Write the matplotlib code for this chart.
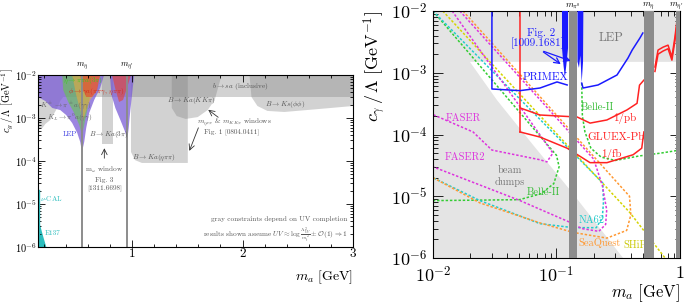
import numpy as np
import matplotlib.pyplot as plt
from matplotlib.ticker import FixedLocator, LogLocator, NullFormatter

plt.rcParams['font.family'] = 'serif'
plt.rcParams['font.serif'] = ['cmr10']
plt.rcParams['mathtext.fontset'] = 'cm'
plt.rcParams['axes.unicode_minus'] = False

# ---------------- left panel data (c_g / Lambda vs m_a) ----------------
m_eta, m_etap = 0.548, 0.958

bsa_x = [0.15, 3.0]
bsa_lo, bsa_hi = 3.1e-3, 1e-2

kpi_x = [0.15, 0.15, 0.189, 0.216, 0.261, 0.288, 0.324, 0.351, 0.378]
kpi_y = [3.08e-3, 5.3e-4, 5.85e-4, 7.25e-4, 9.0e-4, 1.17e-3, 1.71e-3, 2.48e-3, 3.08e-3]

k3pi_x = [0.73, 0.73, 0.83, 0.83]
k3pi_y = [1e-2, 2.48e-4, 2.48e-4, 1e-2]

ketapipi_x = [0.991, 0.991, 1.027, 1.09, 1.505, 1.505]
ketapipi_y = [1e-2, 1.62e-4, 1.05e-4, 9.0e-5, 9.0e-5, 1e-2]

kkkpi_x = [1.36, 1.36, 1.405, 1.486, 1.595, 1.685, 1.748, 1.811]
kkkpi_y = [1e-2, 1.71e-3, 1.11e-3, 9.5e-4, 1.05e-3, 1.53e-3, 2.62e-3, 1e-2]

kphiphi_x = [2.063, 2.081, 2.135, 2.225, 2.378, 2.694, 3.0, 3.0]
kphiphi_y = [1e-2, 3.08e-3, 1.9e-3, 1.46e-3, 1.38e-3, 1.62e-3, 1.9e-3, 1e-2]

lep1_x = [0.15, 0.15, 0.216, 0.279, 0.351, 0.405, 0.459, 0.505, 0.532, 0.548,
          0.568, 0.586, 0.613, 0.658, 0.712, 0.748]
lep1_y = [1e-2, 3.08e-3, 2.48e-3, 1.71e-3, 1.53e-3, 1.17e-3, 7.65e-4, 4.48e-4,
          2.77e-4, 1.62e-4, 2.77e-4, 5.85e-4, 1.31e-3, 2.62e-3, 4.99e-3, 1e-2]
lep2_x = [0.80, 0.815, 0.85, 0.895, 0.935, 0.958, 0.97, 0.985, 1.0, 1.02]
lep2_y = [1e-2, 3.4e-3, 1.7e-3, 9e-4, 5e-4, 3.2e-4, 5.8e-4, 1.5e-3, 3.4e-3, 1e-2]

eta_x = [0.369, 0.378, 0.423, 0.477, 0.523, 0.548, 0.568, 0.595, 0.622, 0.640]
eta_y = [1e-2, 4.48e-3, 2.36e-3, 1.31e-3, 6.87e-4, 4.03e-4, 6.87e-4, 1.53e-3, 3.43e-3, 1e-2]

orng_x = [0.459, 0.495, 0.532, 0.559, 0.586, 0.622, 0.676, 0.712]
orng_y = [1e-2, 3.43e-3, 1.53e-3, 9.0e-4, 1.53e-3, 2.62e-3, 4.03e-3, 1e-2]

phi1_x = [0.532, 0.550, 0.586, 0.640, 0.685, 0.712]
phi1_y = [1e-2, 4.99e-3, 3.08e-3, 3.08e-3, 4.48e-3, 1e-2]
phi2_x = [0.820, 0.847, 0.883, 0.919, 0.955, 0.991]
phi2_y = [1e-2, 4.99e-3, 2.36e-3, 2.62e-3, 4.99e-3, 1e-2]

e137_x = [0.15, 0.225, 0.198, 0.171, 0.15]
e137_y = [1e-6, 1e-6, 1.71e-6, 3.08e-6, 4.72e-6]
nucal_top = 2.1e-5

# ---------------- right panel data (c_gamma / Lambda vs m_a) ----------------
light_x = [0.01, 0.01, 1.0, 1.0, 0.0199, 0.033, 0.0645, 0.129, 0.346]
light_y = [1e-6, 1e-2, 1e-2, 1.5e-3, 1.5e-3, 3.6e-4, 6.8e-5, 1.26e-5, 1e-6]

bands = [(0.126, 0.147), (0.51, 0.62), (0.93, 1.0)]
band_labels = [r'$m_{\pi^0}$', r'$m_\eta$', r"$m_{\eta'}$"]
band_label_x = [0.136, 0.56, 1.07]
band_label_ha = ['center', 'center', 'right']

primex1_x = [0.03, 0.03, 0.0506, 0.0735, 0.101, 0.122]
primex1_y = [1e-2, 5.46e-4, 5.13e-4, 5.66e-4, 7.1e-4, 6.34e-4]
primex2_x = [0.16, 0.164, 0.217, 0.309, 0.379, 0.41, 0.474, 0.50]
primex2_y = [6.8e-4, 5.66e-4, 6.34e-4, 9.2e-4, 1.73e-3, 2.33e-3, 3.66e-3, 4.4e-3]

spike1_x = [0.1108, 0.1108, 0.114, 0.117, 0.120, 0.124, 0.124]
spike1_y = [1e-2, 2.5e-3, 1.3e-3, 8.5e-4, 1.3e-3, 2.5e-3, 1e-2]
spike2_x = [0.148, 0.148, 0.152, 0.156, 0.160, 0.164, 0.165]
spike2_y = [1e-2, 1.5e-3, 1.2e-3, 1.9e-3, 7.0e-4, 1.5e-3, 1e-2]

gluex_vert_x = [0.0506, 0.0506]
gluex_vert_y = [1e-2, 1.1e-4]
pb_x = [0.0506, 0.0735, 0.147, 0.187, 0.256, 0.372, 0.449, 0.47, 0.51]
pb_y = [2.7e-4, 2.07e-4, 1.92e-4, 1.53e-4, 1.72e-4, 2.5e-4, 3.2e-4, 6.3e-4, 7.6e-4]
fb_x = [0.0506, 0.0735, 0.122, 0.187, 0.256, 0.417, 0.49, 0.51]
fb_y = [1.1e-4, 9.1e-5, 6.0e-5, 3.5e-5, 3.5e-5, 4.7e-5, 6.0e-5, 1.1e-4]
pb2_x = [0.627, 0.664, 0.73, 0.80, 0.86, 0.91, 0.94]
pb2_y = [1.24e-3, 2.33e-3, 2.6e-3, 2.8e-3, 1.8e-3, 3.8e-3, 6.4e-3]
fb2_y = [1.05e-3, 2.0e-3, 2.25e-3, 2.45e-3, 1.6e-3, 3.3e-3, 5.6e-3]

belle_up_x = [0.16, 0.162, 0.17, 0.19, 0.23, 0.3, 0.47, 0.7, 1.0]
belle_up_y = [6.8e-4, 2e-4, 1.1e-4, 6e-5, 4.3e-5, 3.8e-5, 4.5e-5, 5e-5, 5.6e-5]
belle_lo_x = [0.01, 0.1, 0.105, 0.095, 0.075, 0.05, 0.01]
belle_lo_y = [1e-2, 4.6e-5, 3e-5, 1.6e-5, 1.1e-5, 8.8e-6, 8.5e-6]

faser_x = [0.0143, 0.0935, 0.0836, 0.0735, 0.030, 0.0211, 0.01]
faser_y = [1e-2, 5e-5, 3.6e-5, 3.9e-5, 5.6e-5, 1.1e-4, 2.1e-4]
faser2_x = [0.0165, 0.2, 0.235, 0.255, 0.25, 0.22, 0.16, 0.128, 0.05, 0.01]
faser2_y = [1e-2, 4e-5, 1.5e-5, 6e-6, 3.5e-6, 2.7e-6, 3e-6, 3.8e-6, 8.6e-6, 3e-5]
na62_x = [0.01, 0.237, 0.24, 0.235, 0.21, 0.136, 0.0735, 0.024, 0.01]
na62_y = [1e-2, 1.64e-5, 8e-6, 4.5e-6, 3.1e-6, 3.1e-6, 3.6e-6, 8.5e-6, 2e-5]
seaquest_x = [0.0175, 0.39, 0.40, 0.37, 0.256, 0.136, 0.0735, 0.024, 0.01]
seaquest_y = [1e-2, 1e-5, 5e-6, 2.8e-6, 2.1e-6, 2.6e-6, 3.7e-6, 7.8e-6, 2e-5]
ship_x = [0.012, 0.394, 0.757]
ship_y = [1e-2, 5.4e-6, 1e-6]

fig = plt.figure(figsize=(6.85, 3.04), dpi=100)

# ======================= left panel =======================
ax = fig.add_axes([0.0555, 0.1875, 0.4599, 0.5658])
ax.set_yscale('log')
ax.set_xlim(0.15, 3.0)
ax.set_ylim(1e-6, 1e-2)

g = dict(color='#808080', alpha=0.35, lw=0)
ax.fill_between(bsa_x, bsa_lo, bsa_hi, **g)
for px, py in [(kpi_x, kpi_y), (k3pi_x, k3pi_y), (ketapipi_x, ketapipi_y),
               (kkkpi_x, kkkpi_y), (kphiphi_x, kphiphi_y)]:
    ax.fill(px, py, **g)

ax.fill(lep1_x, lep1_y, color='#7a5cd6', alpha=0.75, lw=0)
ax.fill(lep2_x, lep2_y, color='#7a5cd6', alpha=0.75, lw=0)
ax.fill(eta_x, eta_y, color='#5fd13a', alpha=0.55, lw=0)
ax.fill(orng_x, orng_y, color='#f2a83a', alpha=0.55, lw=0)
ax.fill(phi1_x, phi1_y, color='#e8402a', alpha=0.6, lw=0)
ax.fill(phi2_x, phi2_y, color='#e8402a', alpha=0.6, lw=0)
ax.fill(e137_x, e137_y, color='#2bbdbd', lw=0)
ax.plot([0.155, 0.155], [1e-6, nucal_top], color='#2bbdbd', lw=1)

for mv in (m_eta, m_etap):
    ax.axvline(mv, color='#8c8c8c', lw=1.4)

ax.set_yticks([1e-6, 1e-5, 1e-4, 1e-3, 1e-2])
ax.set_yticklabels([r'$10^{-6}$', r'$10^{-5}$', r'$10^{-4}$', r'$10^{-3}$', r'$10^{-2}$'], fontsize=7.5)
ax.yaxis.set_minor_locator(LogLocator(base=10, subs=np.arange(2, 10)))
ax.yaxis.set_minor_formatter(NullFormatter())
ax.set_xticks([1, 2, 3])
ax.set_xticklabels(['1', '2', '3'], fontsize=9.5)
ax.xaxis.set_minor_locator(FixedLocator(np.arange(0.2, 3.0, 0.2)))
ax.tick_params(which='both', direction='in', top=True, right=True, width=0.6)
ax.tick_params(which='major', length=5, pad=1)
ax.tick_params(which='minor', length=2.5)
ax.set_xlabel(r'$m_a\ [\mathrm{GeV}]$', fontsize=10, loc='right', labelpad=6)
fig.text(0.011, 0.775, r'$c_g\,/\,\Lambda\ [\mathrm{GeV}^{-1}]$', fontsize=7.5,
         rotation=90, ha='center', va='top')

ax.text(m_eta, 1.15e-2, r'$m_\eta$', fontsize=6, ha='center', va='bottom')
ax.text(m_etap, 1.15e-2, r"$m_{\eta'}$", fontsize=6, ha='center', va='bottom')

fs = 5.2
ax.text(0.378, 7.4e-3, r'$\eta\to\pi\pi a(3\pi)$', color='#3cc81e', fontsize=fs, va='center')
ax.text(0.423, 4.1e-3, r'$\phi\to\gamma a(\pi\pi\gamma,\,\eta\pi\pi)$', color='#d42a1a', fontsize=fs, va='center')
ax.text(0.171, 1.9e-3, r'$K^\pm\to\pi^\pm a(\gamma\gamma)$', color='#666666', fontsize=fs, va='center')
ax.text(0.234, 1.0e-3, r'$K_L\to\pi^0 a(\gamma\gamma)$', color='#666666', fontsize=fs, va='center')
ax.text(0.378, 4.2e-4, 'LEP', color='#3a3ae0', fontsize=fs, va='center')
ax.text(0.613, 4.2e-4, r'$B\to Ka(3\pi)$', color='#555555', fontsize=fs, va='center')
ax.text(1.72, 5.3e-3, r'$b\to sa$ (inclusive)', color='#555555', fontsize=fs, va='center')
ax.text(1.32, 2.6e-3, r'$B\to Ka(KK\pi)$', color='#555555', fontsize=fs, va='center')
ax.text(2.2, 2.1e-3, r'$B\to Ks(\phi\phi)$', color='#555555', fontsize=fs, va='center')
ax.text(1.0, 1.2e-4, r'$B\to Ka(\eta\pi\pi)$', color='#555555', fontsize=fs, va='center')
ax.text(1.585, 8.1e-4, r'$m_{\eta\pi\pi}$ & $m_{KK\pi}$ windows', color='#555555', fontsize=fs, va='center')
ax.text(1.90, 4.7e-4, 'Fig. 1 [0804.0411]', color='#555555', fontsize=fs, va='center', ha='center')
ax.annotate('', xy=(1.67, 1.7e-3), xytext=(1.8, 9.5e-4),
            arrowprops=dict(arrowstyle='->', color='#333333', lw=0.6))
ax.annotate('', xy=(1.51, 1.5e-4), xytext=(1.61, 6.8e-4),
            arrowprops=dict(arrowstyle='->', color='#333333', lw=0.6))
ax.text(0.75, 8.0e-5, 'm$_\\omega$ window\nFig. 3\n[1311.6698]', color='#555555',
        fontsize=fs, ha='center', va='top', linespacing=1.3)
ax.annotate('', xy=(0.75, 2.3e-4), xytext=(0.75, 1.0e-4),
            arrowprops=dict(arrowstyle='->', color='#333333', lw=0.6))
ax.text(0.165, 1.37e-5, r'$\nu$-CAL', color='#2bbdbd', fontsize=fs, va='center')
ax.text(0.21, 2.1e-6, 'E137', color='#2bbdbd', fontsize=fs, va='center')
ax.text(2.95, 4.4e-6, 'gray constraints depend on UV completion', color='#555555',
        fontsize=fs, ha='right', va='center')
ax.text(2.95, 1.9e-6, r'results shown assume $UV\approx\log\frac{\Lambda^2_{UV}}{m_t^2}\pm\mathcal{O}(1)\Rightarrow 1$',
        color='#555555', fontsize=fs, ha='right', va='center')

# ======================= right panel =======================
bx = fig.add_axes([0.6321, 0.1513, 0.3606, 0.8125])
bx.set_xscale('log')
bx.set_yscale('log')
bx.set_xlim(0.01, 1.0)
bx.set_ylim(1e-6, 1e-2)

bx.fill(light_x, light_y, color='#e4e4e4', lw=0, zorder=0)

dot = (0, (1.6, 1.2))
lw = 1.1
bx.plot(belle_lo_x, belle_lo_y, color='#33cc33', ls=dot, lw=lw)
bx.plot(belle_up_x, belle_up_y, color='#33cc33', ls=dot, lw=lw)
bx.plot(na62_x, na62_y, color='#22cccc', ls=dot, lw=lw)
bx.plot(ship_x, ship_y, color='#d4d400', ls=dot, lw=lw)
bx.plot(faser_x, faser_y, color='#dd33dd', ls=dot, lw=lw)
bx.plot(faser2_x, faser2_y, color='#dd33dd', ls=dot, lw=lw)
bx.plot(seaquest_x, seaquest_y, color='#ff9933', ls=dot, lw=lw)

red = '#ff2222'
bx.plot(gluex_vert_x, gluex_vert_y, color=red, lw=1.1)
bx.plot(pb_x, pb_y, color=red, lw=1.1)
bx.plot(fb_x, fb_y, color=red, lw=1.1)
bx.plot(pb2_x, pb2_y, color=red, lw=1.1)
bx.plot(pb2_x, fb2_y, color=red, lw=1.1)

blue = '#1a1aff'
bx.plot(primex1_x, primex1_y, color=blue, lw=1.1)
bx.plot(primex2_x, primex2_y, color=blue, lw=1.1)

for (lo, hi) in bands:
    bx.axvspan(lo, hi, color='#8c8c8c', lw=0, zorder=5)
bx.fill(spike1_x, spike1_y, color=blue, lw=0, zorder=6)
bx.fill(spike2_x, spike2_y, color=blue, lw=0, zorder=6)

for xl, t, ha in zip(band_label_x, band_labels, band_label_ha):
    bx.text(xl, 1.2e-2, t, fontsize=6.5, ha=ha, va='center')

bx.set_xticks([0.01, 0.1, 1.0])
bx.set_xticklabels([r'$10^{-2}$', r'$10^{-1}$', r'$1$'], fontsize=13)
bx.set_yticks([1e-6, 1e-5, 1e-4, 1e-3, 1e-2])
bx.set_yticklabels([r'$10^{-6}$', r'$10^{-5}$', r'$10^{-4}$', r'$10^{-3}$', r'$10^{-2}$'], fontsize=13)
for axis in (bx.xaxis, bx.yaxis):
    axis.set_minor_locator(LogLocator(base=10, subs=np.arange(2, 10)))
    axis.set_minor_formatter(NullFormatter())
bx.tick_params(which='both', direction='in', top=True, right=True, width=0.6)
bx.tick_params(which='major', length=7)
bx.tick_params(axis='x', which='major', pad=5)
bx.tick_params(axis='y', which='major', pad=4)
bx.tick_params(which='minor', length=3.5)
bx.set_xlabel(r'$m_a\ [\mathrm{GeV}]$', fontsize=12, loc='right', labelpad=-2)
bx.set_ylabel(r'$c_\gamma\,/\,\Lambda\ [\mathrm{GeV}^{-1}]$', fontsize=13, loc='top', labelpad=2)

fr = 8
bx.text(0.075, 4.4e-3, 'Fig. 2', color=blue, fontsize=fr, ha='center', va='center', zorder=7)
bx.text(0.070, 3.0e-3, '[1009.1681]', color=blue, fontsize=fr, ha='center', va='center', zorder=7)
bx.annotate('', xy=(0.113, 1.3e-3), xytext=(0.075, 2.3e-3),
            arrowprops=dict(arrowstyle='->', color=blue, lw=0.9), zorder=7)
bx.annotate('', xy=(0.137, 1.5e-3), xytext=(0.075, 2.3e-3),
            arrowprops=dict(arrowstyle='->', color=blue, lw=0.9), zorder=7)
bx.text(0.081, 8.5e-4, 'PRIMEX', color=blue, fontsize=fr, ha='center', va='center')
bx.text(0.276, 3.66e-3, 'LEP', color='#777777', fontsize=9, ha='center', va='center')
bx.text(0.213, 2.8e-4, 'Belle-II', color='#33bb33', fontsize=7.5, ha='center', va='center')
bx.text(0.358, 1.85e-4, '1/pb', color=red, fontsize=fr, ha='center', va='center')
bx.text(0.302, 9.1e-5, 'GLUEX-Pb', color=red, fontsize=fr, ha='center', va='center')
bx.text(0.276, 4.7e-5, '1/fb', color=red, fontsize=fr, ha='center', va='center')
bx.text(0.0127, 1.85e-4, 'FASER', color='#dd33dd', fontsize=7.5, ha='left', va='center')
bx.text(0.0125, 4.3e-5, 'FASER2', color='#dd33dd', fontsize=7.5, ha='left', va='center')
bx.text(0.042, 2.1e-5, 'beam\ndumps', color='#777777', fontsize=7.5, ha='center', va='center',
        linespacing=1.2)
bx.text(0.078, 1.17e-5, 'Belle-II', color='#33bb33', fontsize=7.5, ha='center', va='center')
bx.text(0.194, 4.1e-6, 'NA62', color='#22cccc', fontsize=7.5, ha='center', va='center')
bx.text(0.224, 1.77e-6, 'SeaQuest', color='#ff9933', fontsize=7.5, ha='center', va='center')
bx.text(0.43, 1.6e-6, 'SHiP', color='#c8c800', fontsize=7.5, ha='center', va='center')

fig.savefig('out.png', dpi=100)
